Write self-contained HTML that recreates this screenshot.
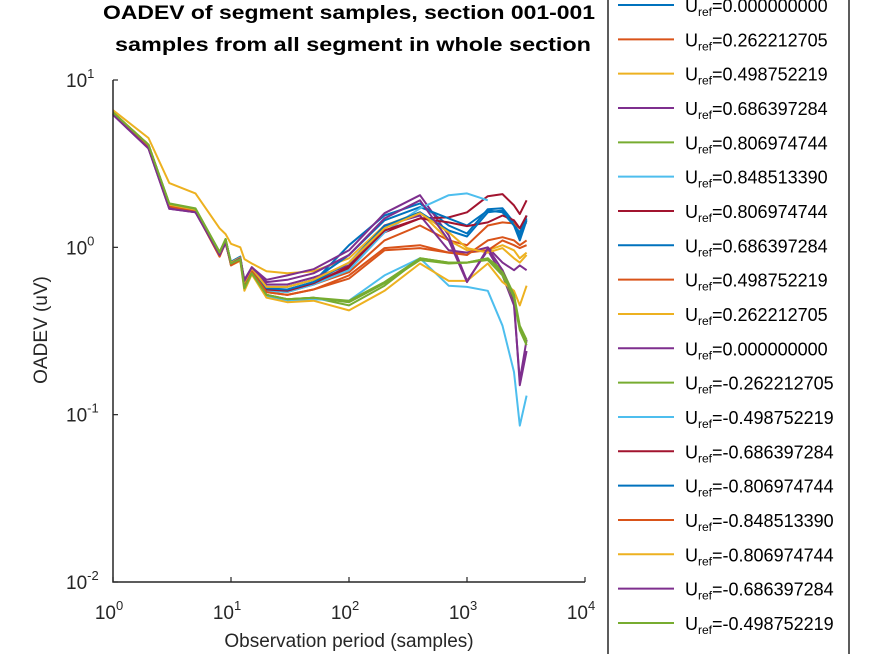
<!DOCTYPE html>
<html><head><meta charset="utf-8"><style>
html,body{margin:0;padding:0;background:#fff;}
svg{display:block;font-family:"Liberation Sans",Arial,sans-serif;}
</style></head><body>
<svg id="chart" width="871" height="654" viewBox="0 0 871 654" xmlns="http://www.w3.org/2000/svg">
<rect width="871" height="654" fill="#fff"/>
<g id="title" font-weight="bold" font-size="19" text-anchor="middle" fill="#000">
<text x="349" y="19" textLength="492" lengthAdjust="spacingAndGlyphs">OADEV of segment samples, section 001-001</text>
<text x="353" y="51" textLength="476" lengthAdjust="spacingAndGlyphs">samples from all segment in whole section</text>
</g>
<g id="plot"></g>
<g id="axes"></g>
<text transform="translate(47,330) rotate(-90)" text-anchor="middle" font-size="19" fill="#262626">OADEV (uV)</text>
<text x="349" y="647" text-anchor="middle" font-size="19" fill="#262626">Observation period (samples)</text>
<g id="legend"></g>
</svg>
<script>
const tau = [1,2,3,5,8,9,10,12,13,15,20,30,50,100,200,400,700,1000,1500,2000,2500,2800,3200];
const xTickExp = [0,1,2,3,4];
const yTickExp = [1,0,-1,-2];
const labels = ["0.000000000","0.262212705","0.498752219","0.686397284","0.806974744","0.848513390","0.806974744","0.686397284","0.498752219","0.262212705","0.000000000","-0.262212705","-0.498752219","-0.686397284","-0.806974744","-0.848513390","-0.806974744","-0.686397284","-0.498752219"];
const colors = ["#0072BD","#D95319","#EDB120","#7E2F8E","#77AC30","#4DBEEE","#A2142F"];
const s1  = [6.3,4.1,1.80,1.68,0.92,1.10,0.82,0.88,0.62,0.74,0.57,0.55,0.62, 1.03,1.55,1.83,1.35,1.21,1.69,1.71,1.41,1.16,1.55];
const s2  = [6.3,4.0,1.76,1.64,0.88,1.08,0.79,0.85,0.60,0.73,0.56,0.54,0.60, 0.71,1.10,1.35,1.10,1.03,1.35,1.41,1.39,1.30,1.41];
const s3  = [6.6,4.5,2.42,2.10,1.30,1.20,1.05,1.00,0.85,0.80,0.72,0.70,0.72, 0.86,1.35,1.62,1.10,0.96,0.96,1.03,0.96,0.86,0.93];
const s4  = [6.2,3.9,1.70,1.62,0.90,1.06,0.80,0.86,0.64,0.76,0.64,0.68,0.74, 0.96,1.60,2.05,1.18,0.63,0.96,0.68,0.45,0.16,0.28];
const s5  = [6.4,4.1,1.82,1.70,0.93,1.12,0.80,0.85,0.57,0.70,0.52,0.49,0.50, 0.45,0.59,0.86,0.81,0.81,0.84,0.68,0.48,0.32,0.26];
const s6  = [6.3,4.0,1.76,1.65,0.91,1.09,0.78,0.84,0.56,0.70,0.51,0.48,0.49, 0.48,0.68,0.86,0.59,0.58,0.55,0.34,0.18,0.086,0.13];
const s7  = [6.3,4.1,1.78,1.66,0.90,1.10,0.80,0.86,0.60,0.74,0.56,0.55,0.60, 0.75,1.23,1.49,1.51,1.62,2.02,2.08,1.78,1.58,1.91];
const s8  = [6.3,4.1,1.79,1.67,0.91,1.10,0.81,0.87,0.62,0.75,0.58,0.58,0.64, 0.90,1.45,1.74,1.49,1.35,1.66,1.62,1.35,1.23,1.49];
const s9  = [6.3,4.0,1.77,1.65,0.89,1.08,0.79,0.85,0.58,0.72,0.54,0.52,0.56, 0.68,0.99,1.03,0.93,0.93,0.96,1.10,1.03,0.99,1.03];
const s10 = [6.4,4.1,1.80,1.68,0.92,1.11,0.78,0.83,0.55,0.69,0.50,0.47,0.48, 0.42,0.55,0.80,0.63,0.63,0.80,0.62,0.55,0.45,0.59];
const s11 = [6.2,3.9,1.72,1.62,0.90,1.06,0.80,0.86,0.62,0.76,0.60,0.60,0.66, 0.78,1.35,1.55,0.96,0.93,1.00,0.81,0.73,0.78,0.73];
const s12 = [6.4,4.1,1.83,1.71,0.94,1.12,0.80,0.85,0.57,0.71,0.52,0.49,0.50, 0.47,0.61,0.84,0.80,0.81,0.86,0.73,0.52,0.34,0.28];
const s13 = [6.3,4.0,1.77,1.66,0.91,1.09,0.79,0.85,0.58,0.72,0.55,0.54,0.60, 0.73,1.23,1.71,2.05,2.10,1.91,null,null,null,null];
const s14 = [6.3,4.1,1.78,1.66,0.90,1.10,0.80,0.86,0.60,0.74,0.56,0.55,0.61, 0.77,1.26,1.49,1.41,1.34,1.41,1.55,1.45,1.30,1.55];
const s15 = [6.3,4.1,1.79,1.67,0.91,1.10,0.81,0.87,0.61,0.75,0.57,0.56,0.62, 0.81,1.34,1.62,1.26,1.16,1.62,1.66,1.35,1.10,1.45];
const s16 = [6.3,4.0,1.76,1.64,0.88,1.07,0.78,0.84,0.58,0.72,0.54,0.52,0.56, 0.65,0.96,0.99,0.93,0.90,1.10,1.15,1.10,1.03,1.10];
const s17 = [6.4,4.1,1.80,1.68,0.92,1.10,0.81,0.87,0.62,0.75,0.58,0.58,0.64, 0.81,1.30,1.60,1.23,0.99,0.93,0.99,0.86,0.81,0.90];
const s18 = [6.2,3.9,1.70,1.62,0.90,1.06,0.80,0.86,0.63,0.76,0.62,0.64,0.70, 0.90,1.49,1.91,1.10,0.62,0.99,0.73,0.48,0.15,0.24];
const s19 = [6.4,4.1,1.82,1.70,0.93,1.12,0.80,0.85,0.57,0.70,0.52,0.49,0.50, 0.48,0.62,0.86,0.81,0.81,0.86,0.71,0.50,0.33,0.27];
const series = [s1,s2,s3,s4,s5,s6,s7,s8,s9,s10,s11,s12,s13,s14,s15,s16,s17,s18,s19];

const NS = "http://www.w3.org/2000/svg";
const X0 = 113, X1 = 585, Y0 = 582, Y1 = 80;
function xs(v){ return X0 + (Math.log10(v) - 0) / 4 * (X1 - X0); }
function ys(v){ return Y0 - (Math.log10(v) + 2) / 3 * (Y0 - Y1); }
function mk(tag, attrs, parent){ const e = document.createElementNS(NS, tag); for (const k in attrs) e.setAttribute(k, attrs[k]); parent.appendChild(e); return e; }

const plot = document.getElementById('plot');
series.forEach((s, i) => {
  let d = "", pen = false;
  s.forEach((v, j) => {
    if (v === null) { pen = false; return; }
    d += (pen ? "L" : "M") + xs(tau[j]).toFixed(1) + " " + ys(v).toFixed(1);
    pen = true;
  });
  const p = mk('path', {d: d, fill: 'none', stroke: colors[i % 7], 'stroke-width': 2, 'stroke-linejoin': 'round'}, plot);
  
  
});

const axes = document.getElementById('axes');
const al = mk('path', {d: `M${X0} ${Y1}V${Y0}H${X1}`, fill: 'none', stroke: '#262626', 'stroke-width': 1.5}, axes);


xTickExp.forEach(e => {
  const x = xs(Math.pow(10, e));
  const t = mk('line', {x1: x, x2: x, y1: Y0, y2: Y0 - 5, stroke: '#262626', 'stroke-width': 1.2}, axes);
  
  
  const tx = mk('text', {x: x - 4, y: 619, 'text-anchor': 'middle', 'font-size': 19, fill: '#262626'}, axes);
  
  
  tx.innerHTML = '10<tspan dy="-9" font-size="13">' + e + '</tspan>';
});
yTickExp.forEach(e => {
  const y = ys(Math.pow(10, e));
  const t = mk('line', {x1: X0, x2: X0 + 5, y1: y, y2: y, stroke: '#262626', 'stroke-width': 1.2}, axes);
  
  
  const tx = mk('text', {x: 66, y: y + 7, 'font-size': 19, fill: '#262626'}, axes);
  
  
  tx.innerHTML = '10<tspan dy="-9" font-size="13">' + e + '</tspan>';
});

const lg = document.getElementById('legend');
const box = mk('rect', {x: 608, y: -10, width: 241, height: 680, fill: '#fff', stroke: '#262626', 'stroke-width': 1.5}, lg);


labels.forEach((lab, i) => {
  const y = 5 + i * 34.33;
  const g = mk('g', {}, lg);
  
  
  mk('line', {x1: 618, x2: 674, y1: y, y2: y, stroke: colors[i % 7], 'stroke-width': 2}, g);
  const t = mk('text', {x: 685, y: y + 7, 'font-size': 18, fill: '#000'}, g);
  t.innerHTML = 'U<tspan dy="4" font-size="12">ref</tspan><tspan dy="-4">=' + lab + '</tspan>';
});
</script>
</body></html>
